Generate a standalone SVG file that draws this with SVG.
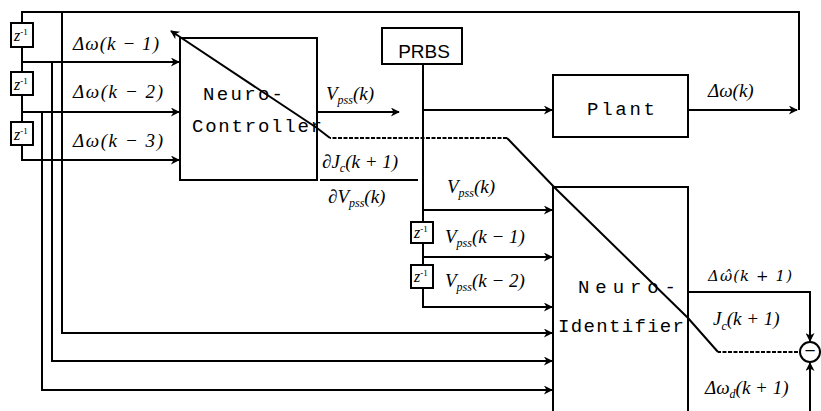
<svg xmlns="http://www.w3.org/2000/svg" width="821" height="411" viewBox="0 0 821 411">
<defs>
<marker id="ah" viewBox="0 0 10 10" refX="9" refY="5" markerWidth="11" markerHeight="9" markerUnits="userSpaceOnUse" orient="auto">
<path d="M0,0 L10,5 L0,10 L3,5 Z" fill="#000"/>
</marker>
<style>
.ln{fill:none;stroke:#000;stroke-width:2}
.box{fill:#fff;stroke:#000;stroke-width:2}
.frame{fill:none;stroke:#000;stroke-width:2}
.mono{font-family:"Liberation Mono",monospace;font-size:19px;fill:#000}
.math{font-family:"Liberation Serif",serif;font-style:italic;font-size:19px;fill:#000}
.sub{font-size:12px}
.z{font-family:"Liberation Serif",serif;font-style:italic;font-size:16px;fill:#000}
.zs{font-size:9px;font-style:normal}
.sans{font-family:"Liberation Sans",sans-serif;font-size:19px;fill:#000}
</style>
</defs>
<rect width="821" height="411" fill="#fff"/>
<g id="connectors">
<path class="ln" d="M799,110 V12 H22 V23"/>
<path class="ln" d="M22,47 V72"/>
<path class="ln" d="M22,95 V122"/>
<path class="ln" d="M22,145 V160 H179" marker-end="url(#ah)"/>
<path class="ln" d="M22,62 H179" marker-end="url(#ah)"/>
<path class="ln" d="M22,112 H179" marker-end="url(#ah)"/>
<path class="ln" d="M62,12 V333 H552" marker-end="url(#ah)"/>
<path class="ln" d="M52,62 V361 H552" marker-end="url(#ah)"/>
<path class="ln" d="M42,112 V390 H552" marker-end="url(#ah)"/>
<path class="ln" d="M317,112 H399" marker-end="url(#ah)"/>
<path class="ln" d="M423,64 V222"/>
<path class="ln" d="M423,243 V265"/>
<path class="ln" d="M423,288 V307 H552" marker-end="url(#ah)"/>
<path class="ln" d="M423,110 H552" marker-end="url(#ah)"/>
<path class="ln" d="M423,210 H552" marker-end="url(#ah)"/>
<path class="ln" d="M423,257 H552" marker-end="url(#ah)"/>
<path class="ln" d="M688,110 H797" marker-end="url(#ah)"/>
<path class="ln" d="M688,292 H810 V341" marker-end="url(#ah)"/>
<path class="ln" d="M810,411 V363" marker-end="url(#ah)"/>
<path class="ln" d="M798,352 H718" stroke-dasharray="4 1.5"/>
<path class="ln" d="M507,138 H330" stroke-dasharray="4 1.5"/>
<path class="ln" d="M718,352 L688,318 L555,188 L507,138"/>
<path class="ln" d="M330,138 L317,128 L171,31" marker-end="url(#ah)"/>
</g>
<g id="z1"><rect class="box" x="11" y="23" width="22" height="24"/><text class="z" x="14" y="41">z<tspan class="zs" dy="-6">-1</tspan></text></g>
<g id="z2"><rect class="box" x="11" y="72" width="22" height="23"/><text class="z" x="14" y="90">z<tspan class="zs" dy="-6">-1</tspan></text></g>
<g id="z3"><rect class="box" x="11" y="122" width="22" height="23"/><text class="z" x="14" y="140">z<tspan class="zs" dy="-6">-1</tspan></text></g>
<g id="z4"><rect class="box" x="411" y="222" width="22" height="21"/><text class="z" x="414" y="238">z<tspan class="zs" dy="-6">-1</tspan></text></g>
<g id="z5"><rect class="box" x="411" y="265" width="22" height="23"/><text class="z" x="414" y="282">z<tspan class="zs" dy="-6">-1</tspan></text></g>
<g id="controller">
<rect class="frame" x="180" y="38" width="137" height="142"/>
<text class="mono" x="203" y="100" textLength="80">Neuro-</text>
<text class="mono" x="192" y="132" textLength="130">Controller</text>
</g>
<g id="prbs"><rect class="box" x="382" y="28" width="80" height="36"/><text class="sans" x="424" y="58" text-anchor="middle">PRBS</text></g>
<g id="plant"><rect class="box" x="553" y="75" width="135" height="62"/><text class="mono" x="587" y="115" textLength="68">Plant</text></g>
<g id="identifier">
<rect class="frame" x="553" y="187" width="135" height="240"/>
<text class="mono" x="578" y="293" textLength="98">Neuro-</text>
<text class="mono" x="558" y="332" textLength="126">Identifier</text>
</g>
<g id="sum"><circle class="box" cx="810" cy="352" r="10"/><text class="sans" x="810" y="357" font-size="16" text-anchor="middle">−</text></g>
<g id="labels">
<text class="math" x="73" y="50" textLength="86">Δω(k − 1)</text>
<text class="math" x="73" y="98" textLength="90">Δω(k − 2)</text>
<text class="math" x="73" y="147" textLength="90">Δω(k − 3)</text>
<text class="math" x="326" y="100">V<tspan class="sub" dy="4">pss</tspan><tspan dy="-4">(k)</tspan></text>
<text class="math" x="322" y="168">∂J<tspan class="sub" dy="4">c</tspan><tspan dy="-4">(k + 1)</tspan></text>
<line class="ln" x1="320" y1="180" x2="418" y2="180"/>
<text class="math" x="328" y="203">∂V<tspan class="sub" dy="4">pss</tspan><tspan dy="-4">(k)</tspan></text>
<text class="math" x="447" y="193">V<tspan class="sub" dy="4">pss</tspan><tspan dy="-4">(k)</tspan></text>
<text class="math" x="445" y="243">V<tspan class="sub" dy="4">pss</tspan><tspan dy="-4">(k − 1)</tspan></text>
<text class="math" x="445" y="287">V<tspan class="sub" dy="4">pss</tspan><tspan dy="-4">(k − 2)</tspan></text>
<text class="math" x="708" y="97">Δω(k)</text>
<text x="708" y="281" style="font-family:'DejaVu Serif',serif;font-style:italic;font-size:15px" textLength="84">Δω̂(k + 1)</text>
<text class="math" x="713" y="325" font-size="21">J<tspan class="sub" dy="5" font-size="13">c</tspan><tspan dy="-5">(k + 1)</tspan></text>
<text class="math" x="705" y="394">Δω<tspan class="sub" dy="4">d</tspan><tspan dy="-4">(k + 1)</tspan></text>
</g>
</svg>
